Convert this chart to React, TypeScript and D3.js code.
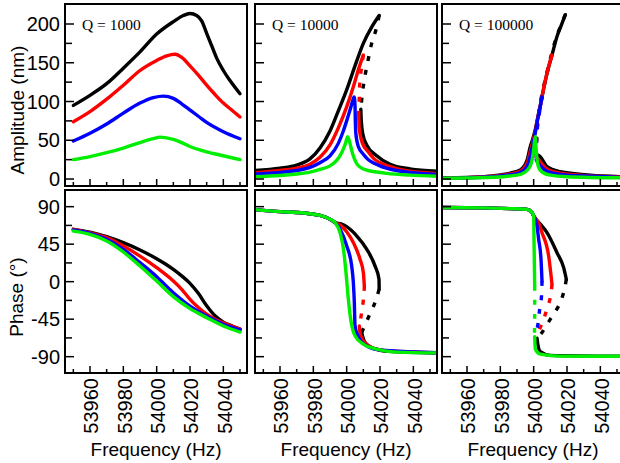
import React from "react";
import * as d3 from "d3";

type Pt = [number, number];

// tick values
const freqMajor = [53960, 53980, 54000, 54020, 54040];
const freqMinor = [53950, 53970, 53990, 54010, 54030, 54050];
const ampMajor = [0, 50, 100, 150, 200];
const ampMinor = [25, 75, 125, 175];
const phaseMajor = [90, 45, 0, -45, -90];
const phaseMinor = [67.5, 22.5, -22.5, -67.5];
const qLabels = ["Q = 1000", "Q = 10000", "Q = 100000"];
const colors = ["#000000", "#ff0000", "#0000ff", "#00ee00"];

// ---- amplitude, Q = 1000
const amp1Black: Pt[] = [[53950, 95], [53960, 108], [53970, 123], [53980, 143], [53990, 164], [54000, 187], [54010, 203], [54016, 211], [54020, 213.5], [54024, 211], [54027, 204], [54030, 188], [54033, 172], [54036, 156], [54040, 140], [54044, 127], [54050, 110]];
const amp1Red: Pt[] = [[53950, 74], [53960, 87], [53970, 103], [53980, 121], [53990, 140], [54000, 153], [54006, 159], [54011, 161], [54015, 157], [54020, 146], [54025, 134], [54030, 121], [54035, 109], [54040, 98], [54045, 89], [54050, 80]];
const amp1Blue: Pt[] = [[53950, 49], [53960, 59], [53970, 71], [53980, 85], [53990, 98], [53998, 105], [54004, 107], [54010, 104], [54015, 97], [54020, 89], [54025, 81], [54030, 73], [54040, 61], [54050, 52]];
const amp1Green: Pt[] = [[53950, 25], [53960, 29], [53970, 34], [53980, 40], [53990, 47], [53998, 52], [54002, 54], [54006, 53], [54010, 51], [54015, 47], [54020, 42], [54030, 35], [54040, 30], [54050, 25]];

// ---- amplitude, Q = 10000
const amp2Black: Pt[] = [[53945, 11], [53960, 14], [53970, 18], [53978, 26], [53984, 40], [53990, 62], [53995, 88], [54000, 115], [54005, 146], [54010, 175], [54015, 196], [54019.5, 211]];
const amp2BlackUnstable: Pt[] = [[54019.5, 211], [54017.5, 192], [54015, 175], [54013, 155], [54011, 133], [54009.5, 112], [54008.5, 90]];
const amp2BlackLower: Pt[] = [[54008.5, 90], [54008.8, 74], [54009.8, 57], [54012, 44], [54018, 30], [54026, 19], [54038, 13], [54054, 10]];
const amp2Red: Pt[] = [[53945, 8], [53960, 11], [53970, 14], [53978, 19], [53984, 28], [53990, 44], [53995, 66], [54000, 93], [54004, 119], [54007, 141], [54010, 160]];
const amp2RedUnstable: Pt[] = [[54010, 160], [54009, 145], [54008, 128], [54007.6, 106], [54007.2, 85]];
const amp2RedLower: Pt[] = [[54007.2, 85], [54007.5, 66], [54009.5, 46], [54013, 35], [54016, 27], [54026, 16], [54038, 10], [54054, 7]];
const amp2Blue: Pt[] = [[53945, 6.5], [53960, 8.5], [53970, 11], [53978, 15], [53984, 21], [53990, 30], [53995, 46], [53998, 62], [54000, 75], [54002, 89], [54003.5, 100], [54004.5, 106], [54005, 95], [54005.2, 75], [54005.5, 59], [54007, 42], [54010, 32], [54012, 27], [54020, 17], [54030, 11], [54038, 8.5], [54054, 6]];
const amp2Green: Pt[] = [[53945, 3], [53960, 4.5], [53970, 6.5], [53978, 9], [53985, 13], [53990, 17], [53994, 24], [53997, 34], [53999.3, 46], [54000.6, 54.6], [54002, 46], [54003, 37], [54004.5, 27], [54006, 20], [54009, 14], [54012, 11.6], [54018, 9], [54024, 7.3], [54038, 5], [54054, 3.5]];

// ---- amplitude, Q = 100000
const amp3Black: Pt[] = [[53945, 1.5], [53960, 2], [53975, 4], [53986, 7.7], [53992, 11.6], [53996, 24], [53998, 42], [53999.5, 52], [54001, 64], [54002.5, 80], [54004, 95], [54005, 106], [54008, 136], [54011, 160], [54014, 184], [54016.5, 198], [54019, 212]];
const amp3BlackUnstable: Pt[] = [[54019, 212], [54013.5, 182], [54008.5, 142], [54004.5, 104], [54002.6, 78], [54001.8, 55], [54001.5, 32]];
const amp3BlackLower: Pt[] = [[54001.5, 32], [54002.5, 31], [54004, 28.8], [54008, 16], [54016, 9.4], [54034, 5], [54054, 3]];
const amp3Red: Pt[] = [[53945, 1.2], [53960, 1.8], [53975, 3.5], [53986, 6.5], [53992, 10], [53996, 20], [53998, 36], [53999.5, 48], [54001, 62], [54002.5, 79], [54004, 94], [54005, 106], [54008, 137], [54011, 160]];
const amp3RedUnstable: Pt[] = [[54011, 160], [54008, 136], [54004.5, 102], [54002.6, 76], [54001.8, 52], [54001.5, 28]];
const amp3RedLower: Pt[] = [[54001.5, 28], [54002.5, 26], [54004, 22], [54008, 13], [54016, 7.5], [54034, 4], [54054, 2.5]];
const amp3Blue: Pt[] = [[53945, 1], [53960, 1.5], [53975, 3], [53986, 5.5], [53992, 8.5], [53996, 16], [53998, 30], [53999.5, 44], [54001, 60], [54002.5, 78], [54004, 94], [54005, 106]];
const amp3BlueUnstable: Pt[] = [[54005, 106], [54004, 92], [54002.6, 74], [54001.8, 50], [54001.5, 25]];
const amp3BlueLower: Pt[] = [[54001.5, 25], [54002.5, 21], [54004, 17], [54008, 10], [54016, 6], [54034, 3.5], [54054, 2]];
const amp3Green: Pt[] = [[53945, 1], [53960, 1.3], [53975, 2.2], [53986, 4], [53992, 6], [53996, 11], [53998.5, 20], [53999.8, 35], [54000.6, 50], [54001, 54.6], [54001.3, 45], [54001.8, 30], [54003, 15], [54005, 9], [54010, 5], [54020, 3], [54054, 1.5]];

// ---- phase, Q = 1000
const ph1Black: Pt[] = [[53950, 62.8], [53960, 59.5], [53970, 54], [53980, 46.8], [53990, 38], [54000, 27.6], [54005, 21.5], [54010, 14.8], [54015, 7], [54020, -2], [54025, -14], [54030, -29], [54035, -41], [54040, -48.5], [54045, -53], [54050, -57]];
const ph1Red: Pt[] = [[53950, 62.8], [53960, 58.7], [53970, 52.8], [53980, 42.7], [53990, 30.7], [54000, 16.8], [54010, 0.7], [54015, -9.2], [54020, -21.2], [54025, -31], [54030, -39], [54035, -45], [54040, -49.5], [54050, -57]];
const ph1Blue: Pt[] = [[53950, 62], [53960, 58], [53970, 50.8], [53980, 38.8], [53990, 22.8], [54000, 6], [54010, -13.2], [54020, -29.3], [54030, -41.3], [54040, -51.2], [54050, -58]];
const ph1Green: Pt[] = [[53950, 60.7], [53960, 56.8], [53970, 48.8], [53980, 35.6], [53990, 18.8], [54000, 0.7], [54010, -18], [54020, -32.4], [54030, -43.2], [54040, -53.2], [54050, -60.5]];

// ---- phase, Q = 10000
const ph2Left: Pt[] = [[53945, 86.5], [53960, 84], [53970, 83], [53978, 81.5], [53984, 79.5], [53990, 75], [53993, 71]];
const ph2Black: Pt[] = [...ph2Left, [53997, 69], [54000, 66], [54006, 55], [54012, 39], [54017, 19], [54019.4, 3], [54019.5, -9]];
const ph2BlackUnstable: Pt[] = [[54019.5, -9], [54017, -25], [54013, -43], [54009, -61]];
const ph2BlackLower: Pt[] = [[54009, -61], [54009.5, -65], [54011, -73], [54016, -80], [54025, -83.5], [54054, -85.3]];
const ph2Red: Pt[] = [...ph2Left, [53996, 68], [54000, 60], [54004, 47], [54008, 27], [54010, 11], [54010.6, -5]];
const ph2RedUnstable: Pt[] = [[54010.6, -5], [54010.3, -17], [54009, -37], [54007.6, -53]];
const ph2RedLower: Pt[] = [[54007.6, -53], [54008, -61], [54010, -71], [54015, -79], [54025, -83], [54054, -85.3]];
const ph2Blue: Pt[] = [...ph2Left, [53996, 63], [54000, 43], [54003, 19], [54004, -1], [54004.6, -25], [54005, -53], [54006.5, -64], [54008, -70], [54012, -77], [54020, -82], [54054, -85.3]];
const ph2Green: Pt[] = [...ph2Left, [53996, 59], [53998, 40], [53999.6, 11], [54001, -21], [54002.4, -45], [54005, -65], [54010, -75], [54018, -81], [54030, -84.5], [54054, -85.5]];

// ---- phase, Q = 100000
const ph3Left: Pt[] = [[53945, 89], [53970, 88.5], [53986, 87.6], [53996, 86.8], [53999, 83], [54000, 79]];
const ph3Lower: Pt[] = [[54000.6, -66], [54001, -81], [54004, -87], [54016, -89.3], [54054, -89.5]];
const ph3Black: Pt[] = [...ph3Left, [54004, 69], [54008, 58.8], [54014, 34.8], [54018, 16.8], [54019.6, 2.8]];
const ph3BlackUnstable: Pt[] = [[54019.6, 2.8], [54018, -13], [54015, -29], [54010, -45], [54005, -61], [54002, -68]];
const ph3BlackLower: Pt[] = [[54002, -68], [54002.5, -75], [54004, -84], [54010, -88.5], [54054, -89.5]];
const ph3Red: Pt[] = [...ph3Left, [54003, 70], [54005, 58.8], [54009, 30.8], [54011, -3.2]];
const ph3RedUnstable: Pt[] = [[54011, -3.2], [54010, -19], [54007, -39], [54004, -55], [54001.5, -65]];
const ph3Blue: Pt[] = [...ph3Left, [54002, 67], [54003, 50.8], [54004.4, 26.8], [54005, 0.7]];
const ph3BlueUnstable: Pt[] = [[54005, 0.7], [54004.6, -20], [54003.6, -33], [54002.4, -53], [54001, -63]];
const ph3Green: Pt[] = [...ph3Left, [54000.2, 51], [54000.5, 10], [54000.6, -5]];
const ph3GreenUnstable: Pt[] = [[54000.6, -5], [54000.6, -40], [54000.5, -62]];

type Branch = { pts: Pt[]; color: string; dashed?: boolean };

const K = colors;
const ampPanels: Branch[][] = [
  [
    { pts: amp1Black, color: K[0] }, { pts: amp1Red, color: K[1] },
    { pts: amp1Blue, color: K[2] }, { pts: amp1Green, color: K[3] },
  ],
  [
    { pts: amp2Black, color: K[0] }, { pts: amp2BlackUnstable, color: K[0], dashed: true }, { pts: amp2BlackLower, color: K[0] },
    { pts: amp2Red, color: K[1] }, { pts: amp2RedUnstable, color: K[1], dashed: true }, { pts: amp2RedLower, color: K[1] },
    { pts: amp2Blue, color: K[2] }, { pts: amp2Green, color: K[3] },
  ],
  [
    { pts: amp3Black, color: K[0] }, { pts: amp3BlackUnstable, color: K[0], dashed: true }, { pts: amp3BlackLower, color: K[0] },
    { pts: amp3Red, color: K[1] }, { pts: amp3RedUnstable, color: K[1], dashed: true }, { pts: amp3RedLower, color: K[1] },
    { pts: amp3Blue, color: K[2] }, { pts: amp3BlueUnstable, color: K[2], dashed: true }, { pts: amp3BlueLower, color: K[2] },
    { pts: amp3Green, color: K[3] },
  ],
];
const phasePanels: Branch[][] = [
  [
    { pts: ph1Black, color: K[0] }, { pts: ph1Red, color: K[1] },
    { pts: ph1Blue, color: K[2] }, { pts: ph1Green, color: K[3] },
  ],
  [
    { pts: ph2Black, color: K[0] }, { pts: ph2BlackUnstable, color: K[0], dashed: true }, { pts: ph2BlackLower, color: K[0] },
    { pts: ph2Red, color: K[1] }, { pts: ph2RedUnstable, color: K[1], dashed: true }, { pts: ph2RedLower, color: K[1] },
    { pts: ph2Blue, color: K[2] }, { pts: ph2Green, color: K[3] },
  ],
  [
    { pts: ph3Black, color: K[0] }, { pts: ph3BlackUnstable, color: K[0], dashed: true }, { pts: ph3BlackLower, color: K[0] },
    { pts: ph3Red, color: K[1] }, { pts: ph3RedUnstable, color: K[1], dashed: true },
    { pts: ph3Blue, color: K[2] }, { pts: ph3BlueUnstable, color: K[2], dashed: true },
    { pts: ph3Green, color: K[3] }, { pts: ph3GreenUnstable, color: K[3], dashed: true }, { pts: ph3Lower, color: K[3] },
  ],
];

const panelLefts = [65, 255, 442];
const panelW = 182;
const sans = "'Liberation Sans', Arial, sans-serif";
const serif = "'Liberation Serif', 'Times New Roman', serif";

// strictly increasing x -> monotone curve, otherwise catmull-rom
const isIncreasing = (pts: Pt[]) => pts.every((p, i) => i === 0 || p[0] > pts[i - 1][0]);

type PanelProps = {
  left: number;
  top: number;
  height: number;
  yDomain: [number, number];
  yMajor: number[];
  yMinor: number[];
  branches: Branch[];
  id: string;
  yLabels: boolean;
  xLabels: boolean;
  label?: string;
};

const Panel = ({ left, top, height, yDomain, yMajor, yMinor, branches, id, yLabels, xLabels, label }: PanelProps) => {
  const x = d3.scaleLinear().domain([53945, 54054.2]).range([left, left + panelW]);
  const y = d3.scaleLinear().domain(yDomain).range([top + height, top]);
  const makeLine = (pts: Pt[]) =>
    d3
      .line<Pt>()
      .x((d) => x(d[0]))
      .y((d) => y(d[1]))
      .curve(isIncreasing(pts) ? d3.curveMonotoneX : d3.curveCatmullRom.alpha(0.5))(pts) || "";
  const bottom = top + height;
  return (
    <g>
      <defs>
        <clipPath id={id}>
          <rect x={left} y={top} width={panelW} height={height} />
        </clipPath>
      </defs>
      <g clipPath={`url(#${id})`}>
        {branches.map((b, i) => (
          <path
            key={i}
            d={makeLine(b.pts)}
            fill="none"
            stroke={b.color}
            strokeWidth={3.4}
            strokeLinejoin="round"
            strokeLinecap={b.dashed ? "butt" : "round"}
            strokeDasharray={b.dashed ? "5 9" : undefined}
          />
        ))}
      </g>
      {yMajor.map((v) => (
        <line key={"ym" + v} x1={left} x2={left + 9} y1={y(v)} y2={y(v)} stroke="#000" strokeWidth={1.5} />
      ))}
      {yMinor.map((v) => (
        <line key={"yn" + v} x1={left} x2={left + 7} y1={y(v)} y2={y(v)} stroke="#000" strokeWidth={1.5} />
      ))}
      {freqMajor.map((v) => (
        <line key={"xm" + v} x1={x(v)} x2={x(v)} y1={bottom} y2={bottom - 7} stroke="#000" strokeWidth={1.5} />
      ))}
      {freqMinor.map((v) => (
        <line key={"xn" + v} x1={x(v)} x2={x(v)} y1={bottom} y2={bottom - 4} stroke="#000" strokeWidth={1.5} />
      ))}
      <rect x={left} y={top} width={panelW} height={height} fill="none" stroke="#000" strokeWidth={2} />
      {yLabels &&
        yMajor.map((v) => (
          <text key={"yl" + v} x={left - 5} y={y(v)} dy="0.36em" textAnchor="end" fontFamily={sans} fontSize={20}>
            {v}
          </text>
        ))}
      {xLabels &&
        freqMajor.map((v) => (
          <text
            key={"xl" + v}
            transform={`translate(${x(v) + 1},${bottom + 5}) rotate(-90)`}
            dy="0.36em"
            textAnchor="end"
            fontFamily={sans}
            fontSize={20}
          >
            {v}
          </text>
        ))}
      {xLabels && (
        <text x={left + panelW / 2} y={bottom + 83} textAnchor="middle" fontFamily={sans} fontSize={19}>
          Frequency (Hz)
        </text>
      )}
      {label && (
        <text x={left + 17} y={top + 26} fontFamily={serif} fontSize={15.5}>
          {label}
        </text>
      )}
    </g>
  );
};

export default function App() {
  return (
    <svg
      width={620}
      height={463}
      viewBox="0 0 620 463"
      style={{ position: "absolute", left: 0, top: 0, background: "#fff" }}
    >
      <rect width={620} height={463} fill="#fff" />
      {panelLefts.map((l, i) => (
        <Panel
          key={"a" + i}
          id={"ca" + i}
          left={l}
          top={4}
          height={182}
          yDomain={[-9, 225.8]}
          yMajor={ampMajor}
          yMinor={ampMinor}
          branches={ampPanels[i]}
          yLabels={i === 0}
          xLabels={false}
          label={qLabels[i]}
        />
      ))}
      {panelLefts.map((l, i) => (
        <Panel
          key={"p" + i}
          id={"cp" + i}
          left={l}
          top={190}
          height={183}
          yDomain={[-109.6, 110]}
          yMajor={phaseMajor}
          yMinor={phaseMinor}
          branches={phasePanels[i]}
          yLabels={i === 0}
          xLabels={true}
        />
      ))}
      <text transform="translate(24,110) rotate(-90)" textAnchor="middle" fontFamily={sans} fontSize={19}>
        Amplitude (nm)
      </text>
      <text transform="translate(23,297) rotate(-90)" textAnchor="middle" fontFamily={sans} fontSize={19}>
        Phase (°)
      </text>
    </svg>
  );
}
